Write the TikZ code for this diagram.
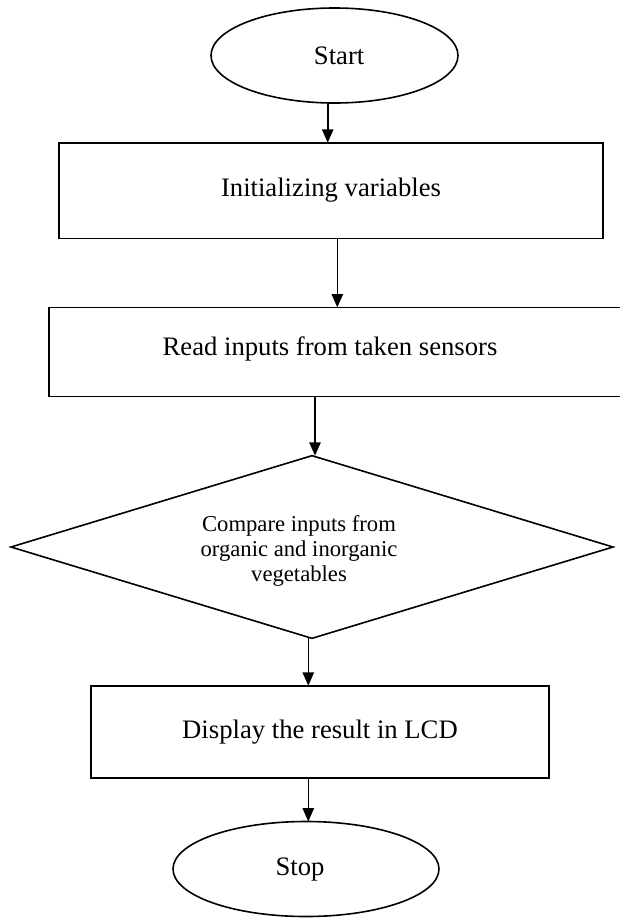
\documentclass[tikz,border=0pt]{standalone}
\usepackage{fontspec}
\setmainfont{Liberation Serif}
\usetikzlibrary{shapes.geometric,arrows.meta}
\begin{document}
\begin{tikzpicture}[x=0.75pt,y=-0.75pt,
  every node/.style={inner sep=0pt,outer sep=0pt},
  flowline/.style={line width=1.2pt,draw=black},
  term/.style={flowline,ellipse,font=\fontsize{20}{24}\selectfont},
  procbox/.style={flowline,rectangle,font=\fontsize{20}{24}\selectfont},
  decide/.style={flowline,diamond},
  plaintext/.style={font=\fontsize{20}{24}\selectfont},
  smalltext/.style={font=\fontsize{17}{18.75}\selectfont,align=center},
  arr/.style={line width=1.2pt,-{Triangle[length=10pt,width=8.5pt]}}
]
\useasboundingbox (0,0) rectangle (619,918);

\node[term,minimum width=185.25pt,minimum height=71.25pt] (start) at (334.5,55.5) {\hspace*{7pt}Start};
\node[procbox,minimum width=408pt,minimum height=71.7pt] (init) at (331,190.5) {Initializing variables};
\node[procbox,minimum width=435.75pt,minimum height=67pt] (read) at (339.5,352) {};
\node[plaintext] (readtxt) at (330,349) {Read inputs from taken sensors};
\node[decide,minimum width=451.5pt,minimum height=137pt,shape aspect=3.3] (dia) at (312,547) {};
\node[smalltext] (diatxt) at (299,551) {Compare inputs from\\organic and inorganic\\vegetables};
\node[procbox,minimum width=343.5pt,minimum height=69pt] (disp) at (320,731.7) {Display the result in LCD};
\node[term,minimum width=199.5pt,minimum height=71.25pt] (stop) at (306,869) {\hspace*{-9pt}Stop};

\coordinate (c1) at (327.7,0);
\coordinate (c2) at (337.3,0);
\coordinate (c3) at (315,0);
\coordinate (c4) at (308.3,0);

\draw[arr] (start.south -| c1) -- (init.north -| c1);
\draw[arr] (init.south -| c2) -- (read.north -| c2);
\draw[arr] (read.south -| c3) -- (dia.north -| c3);
\draw[arr] (dia.south -| c4) -- (disp.north -| c4);
\draw[arr] (disp.south -| c4) -- (stop.north -| c4);
\end{tikzpicture}
\end{document}
